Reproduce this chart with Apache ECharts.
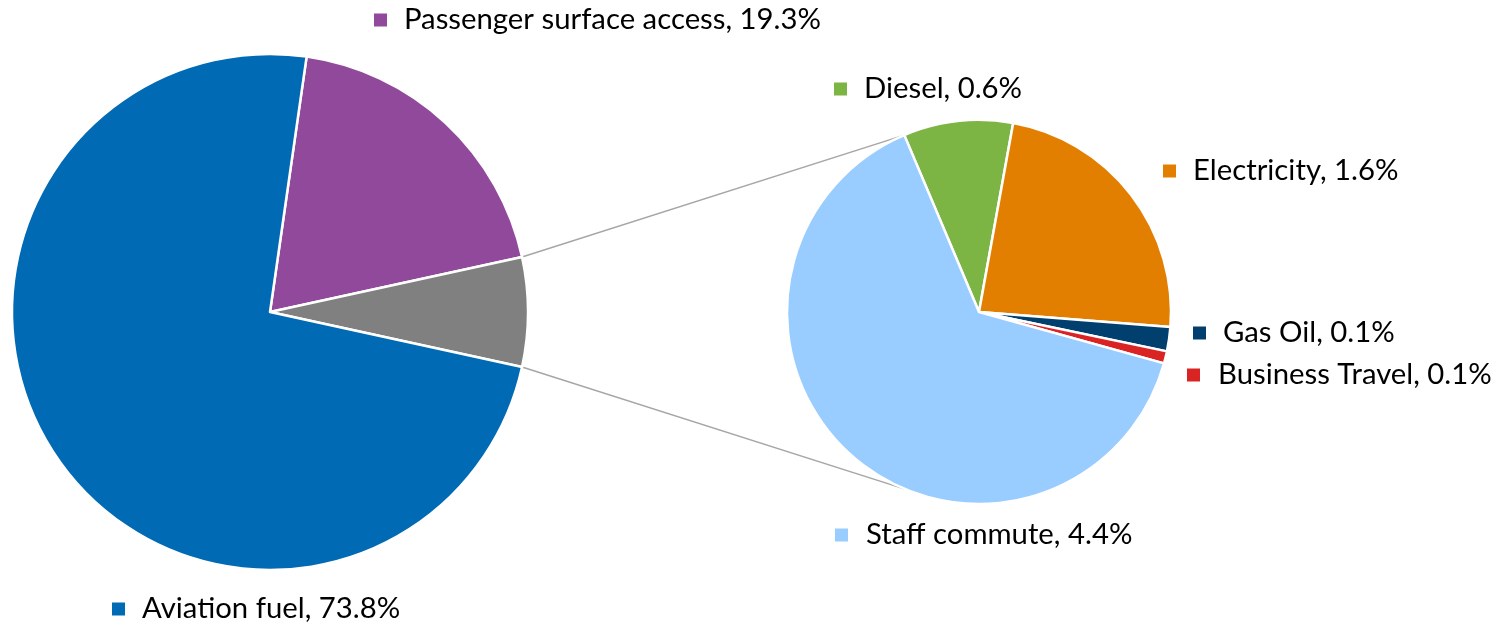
<!DOCTYPE html>
<html>
<head>
<meta charset="utf-8">
<script src="https://cdn.jsdelivr.net/npm/echarts@6/dist/echarts.min.js"></script>
<style>
  html, body { margin: 0; padding: 0; background: #fff; }
  #chart { width: 1497px; height: 627px; }
</style>
</head>
<body>
<div id="chart"></div>
<script>
// ---- data ----
const mainCategories = ['Passenger surface access', 'Other', 'Aviation fuel'];
const mainValues = [19.3, null, 73.8];          // "Other" = sum of the breakdown below
const subCategories = ['Diesel', 'Electricity', 'Gas Oil', 'Business Travel', 'Staff commute'];
const subValues = [0.63, 1.60, 0.14, 0.07, 4.40];

// ---- styles / layout ----
const mainColors = ['#914A9B', '#808080', '#006AB4'];
const subColors = ['#7DB544', '#E37F00', '#003F6E', '#DA2424', '#99CCFF'];
const mainLabelPos = [[374, 20], null, [112, 609]];
const subLabelPos = [[834, 89], [1163, 171], [1193, 333], [1187, 375], [835, 535]];
const subLabelPad = [17, 17, 17, 18, 18];
const LEFT_C = [270, 312], LEFT_R = 257;
const RIGHT_C = [979, 312], RIGHT_R = 192;
const RIGHT_START = 112.9;
const FONT = 'Lato';
const FONT_SIZE = 29.3;

const otherValue = subValues.reduce((a, b) => a + b, 0);
const mainVals = mainValues.map(v => v === null ? otherValue : v);
const mainTotal = mainVals.reduce((a, b) => a + b, 0);
const otherAngle = otherValue / mainTotal * 360;
const leftStart = otherAngle / 2 + mainVals[0] / mainTotal * 360;

function richFor(colors) {
  const r = {};
  colors.forEach((c, i) => {
    r['m' + i] = { backgroundColor: c, width: 13, height: 13, verticalAlign: 'middle' };
  });
  subLabelPad.forEach((p, i) => {
    r['t' + i] = { fontFamily: FONT, fontSize: FONT_SIZE, color: '#000', verticalAlign: 'middle', padding: [0, 0, 0, p] };
  });
  return r;
}

const mainData = mainCategories.map((n, i) => ({
  name: n, value: mainVals[i], itemStyle: { color: mainColors[i] },
  label: { show: mainLabelPos[i] !== null }
}));
const subData = subCategories.map((n, i) => ({
  name: n, value: subValues[i], itemStyle: { color: subColors[i] }
}));

const chart = echarts.init(document.getElementById('chart'), null, { renderer: 'canvas' });

function lineEnds() {
  const a = otherAngle / 2 * Math.PI / 180;
  const b = RIGHT_START * Math.PI / 180;
  const r0 = LEFT_R + 1;
  const p1 = [LEFT_C[0] + r0 * Math.cos(a), LEFT_C[1] - r0 * Math.sin(a)];
  const p2 = [LEFT_C[0] + r0 * Math.cos(a), LEFT_C[1] + r0 * Math.sin(a)];
  const q1 = [RIGHT_C[0] + RIGHT_R * Math.cos(b), RIGHT_C[1] - RIGHT_R * Math.sin(b)];
  const q2 = [RIGHT_C[0] + RIGHT_R * Math.cos(b), RIGHT_C[1] + RIGHT_R * Math.sin(b)];
  return [[p1, q1], [p2, q2]];
}

const lines = lineEnds();

chart.setOption({
  animation: false,
  backgroundColor: '#fff',
  graphic: lines.map(l => ({
    type: 'line', z: -1,
    shape: { x1: l[0][0], y1: l[0][1], x2: l[1][0], y2: l[1][1] },
    style: { stroke: '#A6A6A6', lineWidth: 1.5 }
  })),
  series: [
    {
      type: 'pie',
      center: LEFT_C,
      radius: [0, LEFT_R + 1],
      startAngle: leftStart,
      clockwise: true,
      avoidLabelOverlap: false,
      data: mainData,
      itemStyle: { borderColor: '#fff', borderWidth: 2.5 },
      emphasis: { disabled: true },
      label: {
        show: true,
        position: 'outside',
        formatter: p => `{m${p.dataIndex}|}{t0|${p.name}, ${p.value.toFixed(1)}%}`,
        rich: richFor(mainColors)
      },
      labelLine: { show: false },
      labelLayout: p => {
        const pos = mainLabelPos[p.dataIndex];
        if (!pos) return {};
        return { x: pos[0], y: pos[1], align: 'left', verticalAlign: 'middle' };
      }
    },
    {
      type: 'pie',
      center: RIGHT_C,
      radius: [0, RIGHT_R],
      startAngle: RIGHT_START,
      clockwise: true,
      avoidLabelOverlap: false,
      data: subData,
      itemStyle: { borderColor: '#fff', borderWidth: 2.5 },
      emphasis: { disabled: true },
      label: {
        show: true,
        position: 'outside',
        formatter: p => `{m${p.dataIndex}|}{t${p.dataIndex}|${p.name}, ${p.value.toFixed(1)}%}`,
        rich: richFor(subColors)
      },
      labelLine: { show: false },
      labelLayout: p => {
        const pos = subLabelPos[p.dataIndex];
        return { x: pos[0], y: pos[1], align: 'left', verticalAlign: 'middle' };
      }
    }
  ]
});
</script>
</body>
</html>
